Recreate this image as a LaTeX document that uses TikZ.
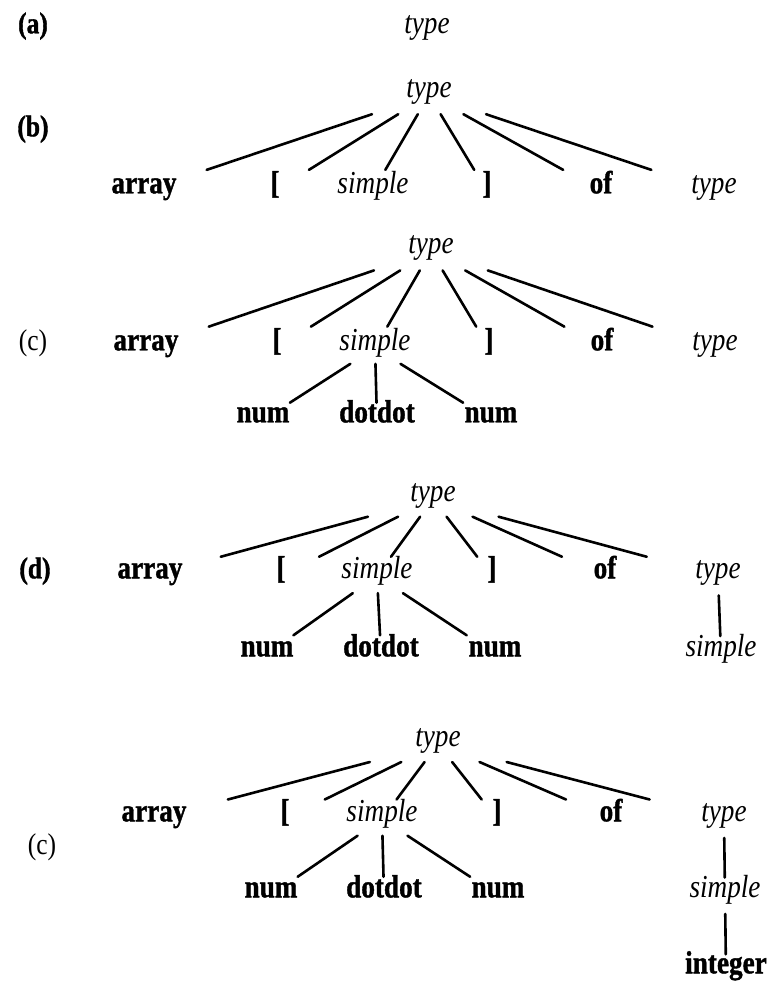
\documentclass[tikz,border=0pt]{standalone}
\usepackage{fontspec}
\setmainfont[FakeStretch=0.85, BoldFeatures={FakeBold=1.2}]{Liberation Serif}
\usetikzlibrary{calc}
\tikzset{
  lbl/.style={inner sep=0pt, text height=0.66em, text depth=0.2em, font=\fontsize{32}{36}\selectfont},
  term/.style={lbl, font=\fontsize{32}{36}\selectfont\bfseries},
  nonterm/.style={lbl, font=\fontsize{32}{36}\selectfont\itshape},
  plabelb/.style={lbl, font=\fontsize{30}{34}\selectfont\bfseries},
  plabel/.style={lbl, font=\fontsize{30}{34}\selectfont},
  edge/.style={line width=2.6pt, line cap=round}
}
\newcommand{\seg}[4]{\draw[edge] ($(#1)!#3!(#2)$) -- ($(#1)!#4!(#2)$);}
\begin{document}
\begin{tikzpicture}[x=1pt,y=-1pt]
\useasboundingbox (0,0) rectangle (770,982);
% (a)
\node[plabelb] (la) at (33,31) {(a)};
\node[nonterm] (a0) at (427,31) {type};
% (b)
\node[plabelb] (lb) at (33,134) {(b)};
\node[nonterm] (b0) at (429,95) {type};
\node[term] (b1) at (144,191) {array};
\node[term] (b2) at (275,191) {[};
\node[nonterm] (b3) at (373,191) {simple};
\node[term] (b4) at (487,191) {]};
\node[term] (b5) at (601,191) {of};
\node[nonterm] (b6) at (714,191) {type};
\foreach \c in {b1,b2,b3,b4,b5,b6} {\seg{b0}{\c}{0.2}{0.78}}
% (c)
\node[plabel] (lc) at (33,348) {(c)};
\node[nonterm] (c0) at (431,251) {type};
\node[term] (c1) at (146,348) {array};
\node[term] (c2) at (277,348) {[};
\node[nonterm] (c3) at (375,348) {simple};
\node[term] (c4) at (489,348) {]};
\node[term] (c5) at (602,348) {of};
\node[nonterm] (c6) at (715,348) {type};
\foreach \c in {c1,c2,c3,c4,c5,c6} {\seg{c0}{\c}{0.2}{0.78}}
\node[term] (c7) at (263,420) {num};
\node[term] (c8) at (377,420) {dotdot};
\node[term] (c9) at (491,420) {num};
\foreach \c in {c7,c8,c9} {\seg{c3}{\c}{0.22}{0.76}}
% (d)
\node[plabelb] (ld) at (35,576) {(d)};
\node[nonterm] (d0) at (433,499) {type};
\node[term] (d1) at (150,576) {array};
\node[term] (d2) at (281,576) {[};
\node[nonterm] (d3) at (377,576) {simple};
\node[term] (d4) at (492,576) {]};
\node[term] (d5) at (605,576) {of};
\node[nonterm] (d6) at (718,576) {type};
\foreach \c in {d1,d2,d3,d4,d5,d6} {\seg{d0}{\c}{0.23}{0.75}}
\node[term] (d7) at (267,654) {num};
\node[term] (d8) at (381,654) {dotdot};
\node[term] (d9) at (495,654) {num};
\foreach \c in {d7,d8,d9} {\seg{d3}{\c}{0.22}{0.76}}
\node[nonterm] (d10) at (721,654) {simple};
\seg{d6}{d10}{0.25}{0.77}
% (e)
\node[plabel] (le) at (42,852) {(c)};
\node[nonterm] (e0) at (438,744) {type};
\node[term] (e1) at (154,819) {array};
\node[term] (e2) at (285,819) {[};
\node[nonterm] (e3) at (382,819) {simple};
\node[term] (e4) at (497,819) {]};
\node[term] (e5) at (611,819) {of};
\node[nonterm] (e6) at (724,819) {type};
\foreach \c in {e1,e2,e3,e4,e5,e6} {\seg{e0}{\c}{0.24}{0.74}}
\node[term] (e7) at (271,895) {num};
\node[term] (e8) at (384,895) {dotdot};
\node[term] (e9) at (498,895) {num};
\foreach \c in {e7,e8,e9} {\seg{e3}{\c}{0.22}{0.76}}
\node[nonterm] (e10) at (725,895) {simple};
\seg{e6}{e10}{0.25}{0.77}
\node[term] (e11) at (726,971) {integer};
\seg{e10}{e11}{0.25}{0.78}
\end{tikzpicture}
\end{document}
